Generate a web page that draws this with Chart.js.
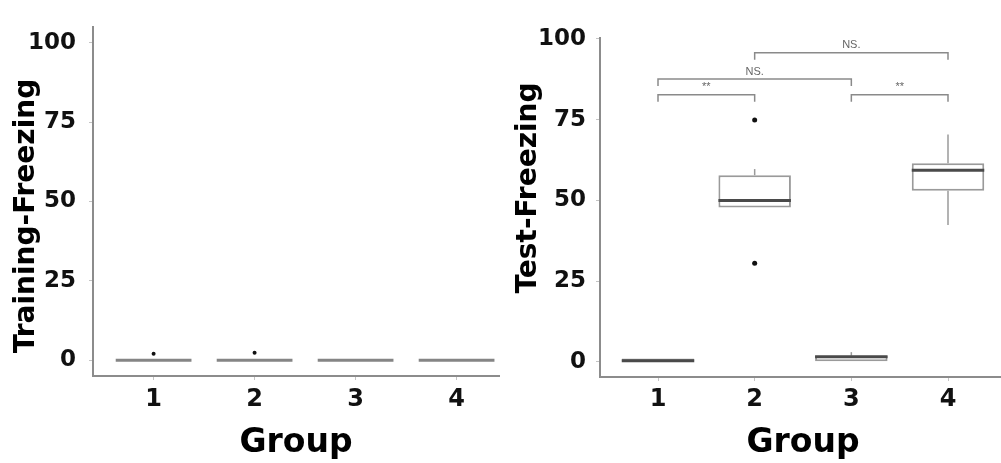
<!DOCTYPE html>
<html>
<head>
<meta charset="utf-8">
<script src="https://cdn.jsdelivr.net/npm/chart.js@4.4.1/dist/chart.umd.min.js"></script>
<style>
  html, body { margin: 0; padding: 0; background: #fff; width: 1001px; height: 463px; overflow: hidden; }
  #leftWrap { position: absolute; left: 0; top: 0; width: 500px; height: 463px; overflow: hidden; }
  #rightWrap { position: absolute; left: 500px; top: 0; width: 501px; height: 463px; overflow: hidden; }
  canvas { display: block; }
</style>
</head>
<body>
<div id="leftWrap"><canvas id="left" width="503" height="463"></canvas></div>
<div id="rightWrap"><canvas id="right" width="510" height="463"></canvas></div>
<script>
// ---------- data ----------
const groups = [1, 2, 3, 4];
const yTicks = [0, 25, 50, 75, 100];

// Training-Freezing (left panel)
const trainWhiskerLow = [0, 0, 0, 0];
const trainQ1 = [0, 0, 0, 0];
const trainMedian = [0, 0, 0, 0];
const trainQ3 = [0, 0, 0, 0];
const trainWhiskerHigh = [0, 0, 0, 0];
const trainOutlierGroup = [1, 2];
const trainOutlierValue = [2.0, 2.3];

// Test-Freezing (right panel)
const testWhiskerLow = [0, 47.8, 0, 42.4];
const testQ1 = [0, 47.8, 0, 53.0];
const testMedian = [0.3, 50.0, 1.6, 59.3];
const testQ3 = [1.0, 57.8, 1.9, 61.5];
const testWhiskerHigh = [1.0, 59.7, 3.0, 70.4];
const testOutlierGroup = [2, 2];
const testOutlierValue = [74.9, 30.5];

// significance brackets (right panel)
const sigFrom = [1, 1, 2, 3];
const sigTo = [2, 3, 4, 4];
const sigLevel = [82.7, 87.6, 95.7, 82.7];
const sigLabel = ['**', 'NS.', 'NS.', '**'];

// ---------- helpers ----------
const boxPlugin = {
  id: 'boxParts',
  beforeDatasetsDraw(chart) {
    const s = chart.$box; if (!s) return;
    const ctx = chart.ctx, x = chart.scales.x, y = chart.scales.y;
    ctx.save();
    ctx.strokeStyle = s.whiskerColor; ctx.lineWidth = 1.5;
    groups.forEach((g, i) => {
      const px = x.getPixelForValue(g);
      ctx.beginPath();
      ctx.moveTo(px, y.getPixelForValue(s.hi[i])); ctx.lineTo(px, y.getPixelForValue(s.q3[i]));
      ctx.moveTo(px, y.getPixelForValue(s.q1[i])); ctx.lineTo(px, y.getPixelForValue(s.lo[i]));
      ctx.stroke();
    });
    ctx.restore();
  },
  afterDatasetsDraw(chart) {
    const s = chart.$box; if (!s) return;
    const ctx = chart.ctx, y = chart.scales.y, x = chart.scales.x;
    const bars = chart.getDatasetMeta(0).data;
    ctx.save();
    ctx.strokeStyle = s.medianColor; ctx.lineWidth = 3;
    bars.forEach((b, i) => {
      const py = y.getPixelForValue(s.med[i]);
      ctx.beginPath(); ctx.moveTo(b.x - b.width / 2, py); ctx.lineTo(b.x + b.width / 2, py); ctx.stroke();
    });
    if (s.sig) {
      ctx.strokeStyle = '#8a8a8a'; ctx.lineWidth = 1.5;
      ctx.fillStyle = '#666'; ctx.font = '11px "Liberation Sans", Arial, sans-serif';
      ctx.textAlign = 'center'; ctx.textBaseline = 'bottom';
      sigFrom.forEach((f, i) => {
        const x1 = x.getPixelForValue(f), x2 = x.getPixelForValue(sigTo[i]);
        const py = y.getPixelForValue(sigLevel[i]);
        ctx.beginPath();
        ctx.moveTo(x1, py + 7); ctx.lineTo(x1, py); ctx.lineTo(x2, py); ctx.lineTo(x2, py + 7);
        ctx.stroke();
        ctx.fillText(sigLabel[i], (x1 + x2) / 2, py - 2);
      });
    }
    ctx.restore();
  }
};

function makeChart(id, o) {
  const chart = new Chart(document.getElementById(id), {
    type: 'bar',
    data: {
      datasets: [
        {
          type: 'bar',
          data: groups.map((g, i) => ({ x: g, y: [o.q1[i], o.q3[i]] })),
          backgroundColor: '#ffffff',
          borderColor: '#9a9a9a',
          borderWidth: 2,
          borderSkipped: false,
          categoryPercentage: 0.75,
          barPercentage: 1,
          order: 2
        },
        {
          type: 'scatter',
          data: o.outX.map((g, i) => ({ x: g, y: o.outY[i] })),
          backgroundColor: '#111',
          borderWidth: 0,
          pointRadius: o.pointRadius,
          order: 1
        }
      ]
    },
    options: {
      responsive: false,
      animation: false,
      events: [],
      layout: { padding: { top: o.padTop, left: 0, right: 0, bottom: 0 } },
      plugins: { legend: { display: false }, tooltip: { enabled: false } },
      scales: {
        x: {
          type: 'linear', min: 0.4, max: o.xMax, offset: false,
          afterBuildTicks: s => { s.ticks = groups.map(v => ({ value: v })); },
          afterFit: s => { s.height = o.xHeight; },
          grid: { drawOnChartArea: false, drawTicks: true, tickLength: 4, color: '#c4c4c4', offset: false },
          border: { color: '#8c8c8c', width: 2 },
          ticks: { color: '#111', padding: o.xTickPad, font: { family: '"DejaVu Sans"', weight: 'bold', size: 24 } },
          title: { display: true, text: 'Group', color: '#000', padding: 0,
                   font: { family: '"DejaVu Sans"', weight: 'bold', size: 33, lineHeight: 1.2 } }
        },
        y: {
          min: o.yMin, max: o.yMax,
          afterBuildTicks: s => { s.ticks = yTicks.map(v => ({ value: v })); },
          afterFit: s => { s.width = o.yWidth; },
          grid: { drawOnChartArea: false, drawTicks: true, tickLength: 4, color: '#c4c4c4' },
          border: { color: '#8c8c8c', width: 2 },
          ticks: { color: '#111', padding: o.yTickPad, font: { family: '"DejaVu Sans"', weight: 'bold', size: 23 } },
          title: { display: true, text: o.yTitle, color: '#000', padding: { top: o.yTitlePad, bottom: 0 },
                   font: { family: '"DejaVu Sans"', weight: 'bold', size: 28, lineHeight: 1.2 } }
        }
      }
    },
    plugins: [{ id: 'attach', beforeInit(c) { c.$box = o.box; } }, boxPlugin]
  });
  return chart;
}

makeChart('left', {
  q1: trainQ1, q3: trainQ3, outX: trainOutlierGroup, outY: trainOutlierValue,
  pointRadius: 2, padTop: 20, xMax: 4.42, xHeight: 87, xTickPad: 5,
  yMin: -5, yMax: 105, yWidth: 93, yTickPad: 13, yTitle: 'Training-Freezing   ', yTitlePad: 10,
  box: { lo: trainWhiskerLow, q1: trainQ1, med: trainMedian, q3: trainQ3, hi: trainWhiskerHigh,
         whiskerColor: '#9a9a9a', medianColor: '#858585', sig: false }
});

makeChart('right', {
  q1: testQ1, q3: testQ3, outX: testOutlierGroup, outY: testOutlierValue,
  pointRadius: 2.5, padTop: 38, xMax: 4.6, xHeight: 86, xTickPad: 4,
  yMin: -4.7, yMax: 100.3, yWidth: 100, yTickPad: 10, yTitle: '    Test-Freezing', yTitlePad: 12,
  box: { lo: testWhiskerLow, q1: testQ1, med: testMedian, q3: testQ3, hi: testWhiskerHigh,
         whiskerColor: '#9a9a9a', medianColor: '#4a4a4a', sig: true }
});
</script>
</body>
</html>
